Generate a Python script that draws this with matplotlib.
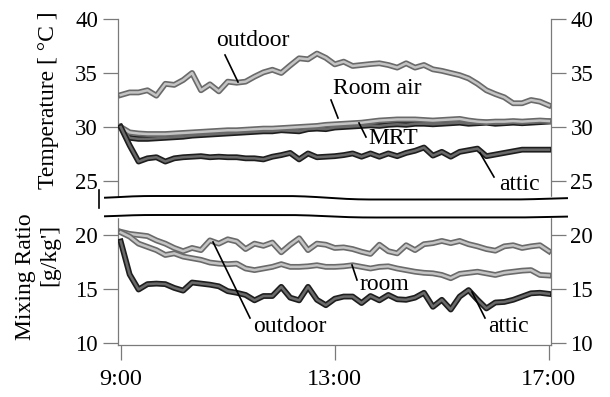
import numpy as np
import matplotlib
matplotlib.use("Agg")
import matplotlib.pyplot as plt
import matplotlib.patheffects as pe
from matplotlib.lines import Line2D
from matplotlib.patches import Rectangle

plt.rcParams['font.family'] = ['Liberation Serif', 'DejaVu Serif']

# 10分間隔 9:00-17:00
n_pts = 49
hours = 9 + np.arange(n_pts) / 6.0

# 温度 [°C]
t_outdoor = [32.96, 33.2, 33.2, 33.4, 32.9, 34.0, 33.9, 34.35, 35.0, 33.4,
             33.95, 33.3, 34.2, 34.1, 34.2, 34.66, 35.06, 35.3, 35.0, 35.7,
             36.36, 36.27, 36.8, 36.4, 35.8, 36.05, 35.65, 35.74, 35.83, 35.9,
             35.74, 35.5, 35.9, 35.5, 35.74, 35.34, 35.2, 35.0, 34.8, 34.5,
             34.0, 33.4, 33.05, 32.75, 32.2, 32.2, 32.5, 32.35, 32.0]
t_room = [30.0, 29.5, 29.4, 29.35, 29.35, 29.35, 29.4, 29.45, 29.5, 29.55,
          29.6, 29.65, 29.7, 29.7, 29.75, 29.8, 29.85, 29.85, 29.9, 29.95,
          30.0, 30.05, 30.1, 30.2, 30.25, 30.3, 30.35, 30.4, 30.5, 30.6,
          30.65, 30.7, 30.7, 30.7, 30.65, 30.6, 30.65, 30.7, 30.75, 30.6,
          30.5, 30.45, 30.5, 30.5, 30.55, 30.5, 30.55, 30.6, 30.55]
t_mrt = [30.0, 29.0, 28.9, 28.9, 28.95, 29.0, 29.05, 29.1, 29.2, 29.25,
         29.3, 29.35, 29.4, 29.45, 29.5, 29.55, 29.6, 29.6, 29.7, 29.65,
         29.6, 29.8, 29.85, 29.8, 29.95, 30.0, 30.05, 30.1, 30.15, 30.1,
         30.2, 30.25, 30.2, 30.3, 30.3, 30.25, 30.3, 30.35, 30.4, 30.3,
         30.35, 30.4, 30.3, 30.35, 30.4, 30.35, 30.4, 30.45, 30.5]
t_attic = [30.0, 28.3, 26.8, 27.1, 27.2, 26.8, 27.1, 27.2, 27.25, 27.3,
           27.2, 27.25, 27.2, 27.2, 27.1, 27.1, 27.0, 27.25, 27.4, 27.6,
           27.0, 27.55, 27.2, 27.25, 27.3, 27.4, 27.55, 27.25, 27.55, 27.25,
           27.55, 27.3, 27.6, 27.8, 28.1, 27.35, 27.7, 27.25, 27.7, 27.85,
           28.0, 27.3, 27.45, 27.6, 27.75, 27.9, 27.9, 27.9, 27.9]

# 混合比 [g/kg']
x_outdoor = [20.3, 20.1, 20.0, 19.9, 19.5, 19.2, 18.8, 18.5, 18.8, 18.6,
             19.5, 19.2, 19.6, 19.4, 18.7, 19.2, 19.0, 19.3, 18.4, 19.1,
             19.7, 18.6, 19.2, 19.1, 18.8, 18.85, 18.7, 18.45, 18.25, 19.1,
             18.5, 18.3, 19.05, 18.6, 19.15, 19.25, 19.45, 19.25, 19.45, 19.15,
             18.95, 18.7, 18.55, 18.95, 19.05, 18.8, 18.95, 19.05, 18.5]
x_room = [20.25, 19.85, 19.2, 18.9, 18.6, 18.15, 18.3, 18.0, 17.85, 17.7,
          17.45, 17.35, 17.3, 17.35, 16.9, 16.75, 16.9, 17.05, 17.3, 17.05,
          17.05, 17.1, 17.2, 17.05, 17.05, 17.1, 17.2, 17.05, 16.9, 17.05,
          17.1, 16.9, 16.75, 16.6, 16.5, 16.45, 16.3, 16.0, 16.4, 16.5,
          16.6, 16.45, 16.3, 16.5, 16.6, 16.7, 16.75, 16.3, 16.25]
x_attic = [19.4, 16.35, 14.95, 15.45, 15.5, 15.45, 15.1, 14.85, 15.6, 15.5,
           15.4, 15.25, 14.8, 14.65, 14.45, 13.95, 14.35, 14.35, 15.2, 14.2,
           13.95, 15.2, 14.0, 13.5, 14.1, 14.3, 14.3, 13.7, 14.35, 13.95,
           14.45, 14.05, 14.0, 14.2, 14.65, 13.35, 14.0, 13.1, 14.3, 14.9,
           14.0, 13.2, 13.75, 13.8, 14.0, 14.3, 14.6, 14.65, 14.55]

xticks = [9, 13, 17]
xticklabels = ['9:00', '13:00', '17:00']
yticks = [10, 15, 20, 25, 30, 35, 40]

W, H = 610, 397
fig = plt.figure(figsize=(W / 100, H / 100), dpi=100)

def fx(px):
    return px / W

def fy(py):
    return 1 - py / H

ax = fig.add_axes([fx(117.5), fy(345), fx(551) - fx(117.5), fy(19) - fy(345)])
ax.set_xlim(8.94, 17.04)
ax.set_ylim(10 - 2 / 10.8, 40)

spine_c = '#7a7a7a'
for s in ['left', 'right', 'bottom']:
    ax.spines[s].set_color(spine_c)
    ax.spines[s].set_linewidth(0.9)
ax.spines['top'].set_visible(False)

ax.set_xticks(xticks)
ax.set_xticklabels(xticklabels)
ax.set_yticks(yticks)
ax.tick_params(axis='x', direction='out', length=11, width=0.9, color=spine_c,
               labelsize=17.5, pad=6)
ax.tick_params(axis='y', direction='out', length=11, width=0.9, color=spine_c,
               labelsize=16.5, pad=3, left=True, right=True,
               labelleft=True, labelright=True)

def draw(y, outer, inner, w_out=4.2, w_in=1.8):
    ax.plot(hours, y, color=inner, lw=w_in, solid_joinstyle='round',
            path_effects=[pe.Stroke(linewidth=w_out, foreground=outer),
                          pe.Normal()], zorder=3)

light_out, light_in = '#6a6a6a', '#c4c4c4'
dark_out, dark_in = '#1e1e1e', '#6a6a6a'

draw(t_outdoor, light_out, light_in)
draw(t_mrt, dark_out, dark_in)
draw(t_room, light_out, light_in)
draw(t_attic, dark_out, dark_in)
draw(x_outdoor, light_out, light_in)
draw(x_room, light_out, light_in)
draw(x_attic, dark_out, dark_in)

# 軸の省略（波線）
band = Rectangle((fx(90), fy(216.5)), fx(480), fy(197) - fy(216.5),
                 transform=fig.transFigure, color='white', zorder=10)
fig.add_artist(band)

def wave(pts):
    xs = np.linspace(pts[0][0], pts[-1][0], 200)
    px = [p[0] for p in pts]
    py = [p[1] for p in pts]
    ys = np.interp(xs, px, py)
    k = np.ones(15) / 15
    ys = np.convolve(np.pad(ys, 7, mode='edge'), k, mode='valid')
    return [fx(v) for v in xs], [fy(v) for v in ys]

up = wave([(105, 198), (135, 196), (300, 196), (355, 199.5), (525, 199.5), (567, 198)])
lo = wave([(105, 216.5), (135, 215), (300, 215), (355, 217.5), (525, 217.5), (567, 216.5)])
for xs, ys in (up, lo):
    fig.add_artist(Line2D(xs, ys, transform=fig.transFigure, color='black',
                          lw=1.4, zorder=11))
fig.add_artist(Line2D([fx(98.5), fx(98.5)], [fy(190), fy(208)],
                      transform=fig.transFigure, color='black', lw=1.2, zorder=11))

# ラベル
fs = 17
def label(txt, cx, cy):
    fig.text(fx(cx), fy(cy), txt, ha='center', va='center', fontsize=fs, zorder=12)

def leader(p0, p1):
    fig.add_artist(Line2D([fx(p0[0]), fx(p1[0])], [fy(p0[1]), fy(p1[1])],
                          transform=fig.transFigure, color='black', lw=1.2, zorder=12))

label('outdoor', 253, 41)
leader((225, 55), (238, 82))
label('Room air', 377, 89)
leader((331, 100), (338, 118))
label('MRT', 393, 138)
leader((359, 123), (366, 137))
label('attic', 519, 185)
leader((480, 153), (494, 177))
label('outdoor', 290, 326)
leader((213, 242), (250, 318))
label('room', 384, 284)
leader((352, 265), (357, 280))
label('attic', 508, 326)
leader((472, 292), (485, 318))

fig.text(fx(49), fy(100), 'Temperature [ °C ]', rotation=90, ha='center', va='center', fontsize=fs)
fig.text(fx(26), fy(277), 'Mixing Ratio', rotation=90, ha='center', va='center', fontsize=fs)
fig.text(fx(50), fy(255), "[g/kg']", rotation=90, ha='center', va='center', fontsize=fs)

fig.savefig('out.png', dpi=100)
